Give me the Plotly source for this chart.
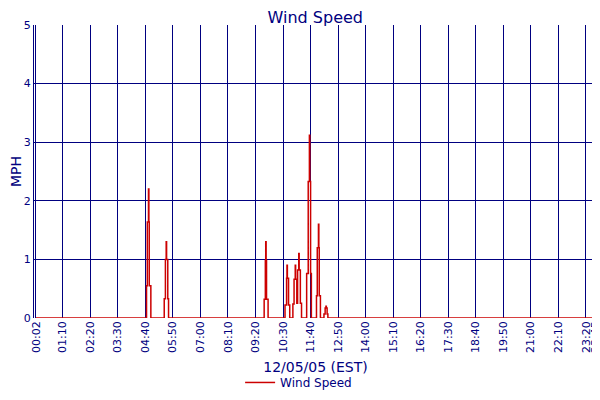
import plotly.graph_objects as go

day = "2005-12-05 "

# wind speed readings (MPH), step data
times = [
    "00:02",
    "04:43", "04:45", "04:48", "04:49", "04:50", "04:54",
    "05:28", "05:31", "05:33", "05:34", "05:37", "05:39",
    "09:42", "09:45", "09:46", "09:47", "09:48", "09:52",
    "10:35", "10:39", "10:40", "10:41", "10:44", "10:47",
    "10:55", "10:58", "11:01", "11:02", "11:05",
    "11:07", "11:10", "11:11", "11:14", "11:17",
    "11:30", "11:34", "11:37", "11:38", "11:40", "11:42",
    "11:55", "11:57", "12:00", "12:01", "12:02", "12:05",
    "12:14", "12:17", "12:19", "12:20", "12:22", "12:24",
    "23:45",
]
speed = [
    0,
    0.55, 1.64, 2.2, 1.64, 0.55, 0,
    0.33, 1.0, 1.3, 1.0, 0.33, 0,
    0.32, 0.98, 1.3, 0.98, 0.32, 0,
    0.22, 0.68, 0.9, 0.68, 0.22, 0,
    0.24, 0.66, 0.9, 0.66, 0.25,
    0.82, 1.1, 0.82, 0.25, 0,
    0.76, 2.33, 3.12, 2.33, 0.76, 0,
    0.38, 1.2, 1.6, 1.2, 0.38, 0,
    0.07, 0.17, 0.2, 0.17, 0.07, 0,
    0,
]

tick_labels = ["00:02", "01:10", "02:20", "03:30", "04:40", "05:50", "07:00",
               "08:10", "09:20", "10:30", "11:40", "12:50", "14:00", "15:10",
               "16:20", "17:30", "18:40", "19:50", "21:00", "22:10", "23:20",
               "23:45"]

navy = "#000080"
red = "#CC0000"

fig = go.Figure()
fig.add_trace(go.Scatter(
    x=[day + t for t in times],
    y=speed,
    mode="lines",
    line=dict(color=red, width=1.5, shape="hv"),
    name="Wind Speed",
))

# page body adds 8px around the figure, so size it to fit the window
fig.update_layout(
    width=592, height=392,
    margin=dict(l=26, r=3, t=17, b=82),
    plot_bgcolor="#FFFFFF",
    paper_bgcolor="#FFFFFF",
    font=dict(family="DejaVu Sans", size=11, color=navy),
    title=dict(text="Wind Speed", x=0.519, xanchor="center", xref="container",
               y=0.975, yanchor="middle", font=dict(size=16, color=navy)),
    showlegend=True,
    legend=dict(orientation="h", x=0.47, xanchor="center", y=-0.22, yanchor="middle",
                font=dict(size=12, color=navy)),
)
fig.update_xaxes(
    type="date",
    range=["2005-12-04 23:57", "2005-12-05 23:48"],
    tickvals=[day + t for t in tick_labels],
    ticktext=tick_labels,
    tickangle=-90,
    ticklabeloverflow="allow",
    tickfont=dict(size=11, color=navy),
    showgrid=True, gridcolor=navy, gridwidth=1.2,
    zeroline=False,
    showline=False,
    ticks="",
    title=dict(text="12/05/05 (EST)", font=dict(size=14, color=navy), standoff=10),
    automargin=False,
)
fig.update_yaxes(
    range=[0, 5],
    dtick=1,
    tickfont=dict(size=11, color=navy),
    showgrid=True, gridcolor=navy, gridwidth=1.2,
    zeroline=False,
    showline=True, linecolor=navy, linewidth=1.2, mirror=True,
    ticks="",
    title=dict(text="MPH", font=dict(size=14, color=navy), standoff=0),
    automargin=False,
)

fig.write_html("out.html")
